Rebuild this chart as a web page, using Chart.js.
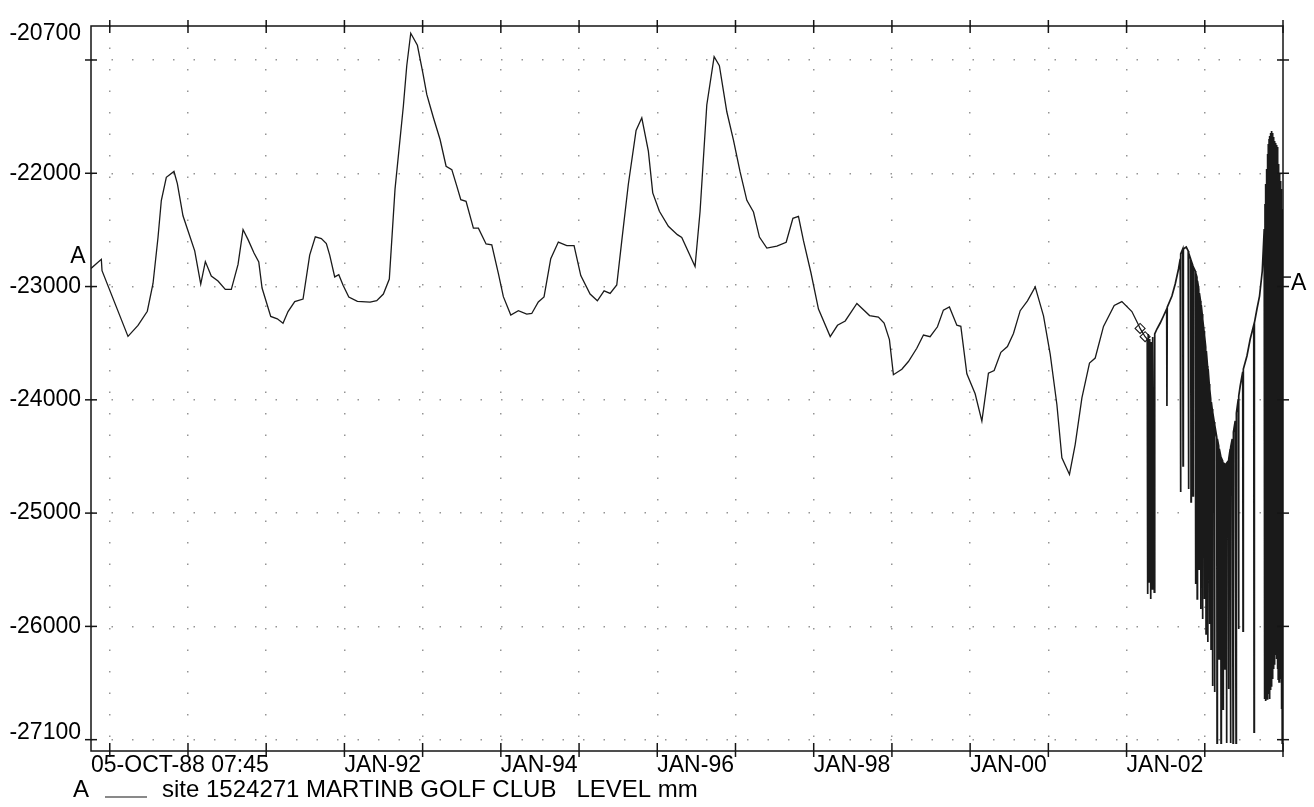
<!DOCTYPE html>
<html><head><meta charset="utf-8">
<script src="https://cdn.jsdelivr.net/npm/chart.js@4.4.1/dist/chart.umd.min.js"></script>
<style>html,body{margin:0;padding:0;background:#fff;}canvas{display:block;}</style>
</head><body>
<canvas id="c" width="1314" height="807"></canvas>
<script>
// ---- data ----
const manualDates = [1988.760,1988.892,1988.901,1989.233,1989.361,1989.480,1989.553,1989.617,1989.659,1989.723,1989.821,1989.864,1989.936,1990.000,1990.086,1990.163,1990.222,1990.298,1990.384,1990.477,1990.554,1990.640,1990.704,1990.768,1990.844,1990.905,1990.947,1991.058,1991.142,1991.215,1991.279,1991.365,1991.471,1991.556,1991.628,1991.705,1991.769,1991.812,1991.876,1991.928,1991.983,1992.056,1992.166,1992.328,1992.413,1992.498,1992.574,1992.647,1992.754,1992.797,1992.848,1992.933,1993.002,1993.053,1993.095,1993.138,1993.223,1993.300,1993.373,1993.437,1993.488,1993.555,1993.649,1993.713,1993.811,1993.884,1993.968,1994.032,1994.127,1994.224,1994.331,1994.395,1994.479,1994.552,1994.638,1994.735,1994.843,1994.936,1995.022,1995.141,1995.234,1995.320,1995.397,1995.482,1995.546,1995.630,1995.729,1995.802,1995.886,1995.942,1996.027,1996.142,1996.257,1996.313,1996.483,1996.547,1996.633,1996.727,1996.794,1996.889,1996.974,1997.059,1997.145,1997.230,1997.306,1997.401,1997.529,1997.648,1997.734,1997.805,1997.869,1997.964,1998.061,1998.211,1998.304,1998.403,1998.552,1998.714,1998.827,1998.900,1998.968,1999.019,1999.127,1999.211,1999.318,1999.403,1999.488,1999.582,1999.658,1999.735,1999.830,1999.881,1999.958,2000.064,2000.150,2000.234,2000.307,2000.393,2000.477,2000.554,2000.640,2000.733,2000.832,2000.938,2001.024,2001.109,2001.173,2001.270,2001.343,2001.429,2001.526,2001.599,2001.705,2001.842,2001.940,2002.068,2002.153,2002.173,2002.237];
const manualLevels = [-22840,-22760,-22860,-23440,-23343,-23218,-22973,-22565,-22241,-22036,-21984,-22092,-22375,-22508,-22685,-22979,-22780,-22907,-22951,-23025,-23025,-22805,-22497,-22586,-22704,-22783,-23013,-23264,-23285,-23324,-23221,-23133,-23110,-22722,-22561,-22577,-22621,-22723,-22915,-22896,-22989,-23092,-23131,-23138,-23124,-23066,-22934,-22140,-21404,-21051,-20764,-20870,-21112,-21304,-21406,-21510,-21702,-21938,-21968,-22114,-22233,-22248,-22484,-22484,-22624,-22632,-22883,-23089,-23252,-23213,-23244,-23238,-23136,-23092,-22754,-22607,-22638,-22639,-22903,-23066,-23126,-23038,-23061,-22986,-22597,-22097,-21622,-21510,-21805,-22173,-22336,-22468,-22542,-22566,-22823,-22338,-21397,-20971,-21050,-21457,-21708,-21988,-22239,-22342,-22563,-22661,-22644,-22609,-22398,-22381,-22595,-22876,-23199,-23442,-23342,-23304,-23149,-23256,-23269,-23322,-23469,-23778,-23730,-23662,-23545,-23428,-23443,-23355,-23208,-23180,-23341,-23351,-23770,-23947,-24188,-23765,-23741,-23581,-23530,-23414,-23213,-23126,-23003,-23259,-23599,-24041,-24512,-24659,-24395,-23983,-23675,-23631,-23352,-23167,-23133,-23221,-23340,-23370,-23443];
const loggerDates = [2002.264,2002.270,2002.277,2002.290,2002.296,2002.309,2002.315,2002.328,2002.334,2002.354,2002.360,2002.388,2002.430,2002.472,2002.513,2002.516,2002.520,2002.580,2002.622,2002.664,2002.686,2002.690,2002.694,2002.718,2002.722,2002.726,2002.763,2002.788,2002.792,2002.796,2002.820,2002.824,2002.828,2002.846,2002.850,2002.854,2002.878,2002.882,2002.886,2002.900,2002.903,2002.907,2002.923,2002.927,2002.931,2002.946,2002.950,2002.955,2002.967,2002.971,2002.975,2002.990,2002.994,2002.998,2003.012,2003.016,2003.020,2003.035,2003.039,2003.043,2003.057,2003.061,2003.065,2003.076,2003.080,2003.084,2003.095,2003.099,2003.103,2003.121,2003.125,2003.129,2003.153,2003.157,2003.161,2003.178,2003.182,2003.186,2003.204,2003.208,2003.212,2003.229,2003.233,2003.237,2003.255,2003.259,2003.263,2003.274,2003.278,2003.282,2003.300,2003.304,2003.308,2003.325,2003.329,2003.333,2003.351,2003.362,2003.366,2003.389,2003.400,2003.404,2003.428,2003.432,2003.436,2003.453,2003.485,2003.489,2003.493,2003.539,2003.581,2003.626,2003.630,2003.634,2003.667,2003.700,2003.735,2003.760,2003.765,2003.770,2003.776,2003.781,2003.786,2003.791,2003.796,2003.801,2003.806,2003.812,2003.817,2003.822,2003.827,2003.832,2003.837,2003.842,2003.847,2003.852,2003.857,2003.863,2003.868,2003.873,2003.878,2003.883,2003.888,2003.893,2003.898,2003.903,2003.909,2003.914,2003.919,2003.924,2003.929,2003.934,2003.939,2003.944,2003.949,2003.954,2003.960,2003.965,2003.970,2003.975,2003.980,2003.985,2003.990,2003.995,2003.997,2003.999];
const loggerLevels = [-23463,-25714,-23419,-25608,-23463,-25758,-23490,-25670,-23445,-25697,-23419,-23375,-23322,-23260,-23198,-24055,-23181,-23084,-22978,-22845,-22757,-24814,-22713,-22669,-24584,-22669,-22651,-22686,-24787,-22704,-22757,-24902,-22775,-22810,-24849,-22828,-22863,-25626,-22881,-22916,-25758,-22951,-23022,-25494,-23057,-23128,-25847,-23163,-23242,-25935,-23287,-23393,-25758,-23428,-23534,-26067,-23569,-23702,-26138,-23728,-23860,-25979,-23905,-23993,-26200,-24019,-24081,-26526,-24108,-24196,-26579,-24222,-24328,-27030,-24346,-24408,-26288,-24434,-24496,-27030,-24514,-24540,-26730,-24558,-24567,-26376,-24567,-24567,-27030,-24558,-24540,-26553,-24523,-24434,-27030,-24417,-24346,-27030,-24284,-24187,-27030,-24116,-23993,-26023,-23966,-23878,-23754,-26041,-23728,-23613,-23463,-23340,-26933,-23322,-23198,-23084,-22863,-22492,-26641,-22271,-26659,-22095,-26624,-21962,-26641,-21830,-26641,-21742,-26597,-21698,-26641,-21671,-26553,-21645,-26526,-21627,-26526,-21645,-26465,-21680,-26376,-21698,-26332,-21715,-26244,-21733,-26226,-21751,-26288,-21768,-26376,-21830,-26465,-21918,-26491,-22007,-26491,-22068,-26465,-22139,-26730,-22183,-27030,-22316,-27030,-22987];
const checkDates = [2002.173, 2002.237];
const checkLevels = [-23370, -23443];
const yTickValues = [-27100,-27000,-26000,-25000,-24000,-23000,-22000,-21000,-20700];
const yLabelValues = [-27100,-26000,-25000,-24000,-23000,-22000,-20700];
const xTickValues = [1988.76,1989,1990,1991,1992,1993,1994,1995,1996,1997,1998,1999,2000,2001,2002,2003,2004];
const xLabelValues = [1988.76,1992,1994,1996,1998,2000,2002];
const xLabelTexts = ['05-OCT-88 07:45','JAN-92','JAN-94','JAN-96','JAN-98','JAN-00','JAN-02'];
const seriesTag = 'A';
const seriesName = 'site 1524271 MARTINB GOLF CLUB   LEVEL mm';
const X_MIN = 1988.76, X_MAX = 2004, Y_MIN = -27100, Y_MAX = -20700;

// ---- build chart ----
const FONT = "'Liberation Sans', Arial, Helvetica, sans-serif";
const allLevels = manualLevels.concat(loggerLevels);
const manualPoints = manualDates.map((d, i) => ({x: d, y: manualLevels[i]}));
manualPoints.push({x: loggerDates[0], y: loggerLevels[0]}); // joins onto the logger record
const loggerPoints = loggerDates.map((d, i) => ({x: d, y: loggerLevels[i]}));
const checkPoints = checkDates.map((d, i) => ({x: d, y: checkLevels[i]}));
const DOT = 'rgba(0,0,0,0.42)';

const framePlugin = {
  id: 'frame',
  beforeDraw(chart) {
    const items = chart.scales.y.getLabelItems();
    items.forEach(it => {
      if (it._adj) return;
      it._adj = true;
      if (it.label === String(Y_MAX)) it.options.translation[1] += 8;
      if (it.label === String(Y_MIN)) it.options.translation[1] -= 18;
    });
  },
  afterDraw(chart) {
    const {ctx, chartArea: a, scales: {x, y}} = chart;
    const line = (x1, y1, x2, y2) => { ctx.beginPath(); ctx.moveTo(x1, y1); ctx.lineTo(x2, y2); ctx.stroke(); };
    ctx.save();
    ctx.strokeStyle = '#151515';
    ctx.lineWidth = 1.5;
    ctx.strokeRect(a.left, a.top, a.right - a.left, a.bottom - a.top);
    xTickValues.forEach((v, i) => {
      if (i === 0) return;
      const px = x.getPixelForValue(v);
      line(px, a.bottom - 8, px, a.bottom + 6);
      line(px, a.top - 6, px, a.top + 7);
    });
    yTickValues.forEach(v => {
      if (v === Y_MIN || v === Y_MAX) return;
      const py = y.getPixelForValue(v);
      line(a.left - 6, py, a.left + 6, py);
      line(a.right - 6, py, a.right + 6, py);
    });
    // series tags at both ends
    ctx.fillStyle = '#000';
    ctx.font = `23px ${FONT}`;
    ctx.textBaseline = 'middle';
    ctx.textAlign = 'center';
    const yFirst = y.getPixelForValue(allLevels[0]);
    const yLast = y.getPixelForValue(allLevels[allLevels.length - 1]);
    ctx.fillText(seriesTag, a.left - 13, yFirst - 12);
    line(a.right, yLast - 8, a.right + 8, yLast - 8);
    ctx.textAlign = 'left';
    ctx.fillText(seriesTag, a.right + 8, yLast - 1);
    // legend line at the bottom
    ctx.textBaseline = 'alphabetic';
    ctx.font = `24px ${FONT}`;
    ctx.fillText(seriesTag, 73, 797);
    ctx.lineWidth = 1.2;
    line(105, 797, 147, 797);
    ctx.fillText(seriesName, 162, 797);
    ctx.restore();
  }
};

new Chart(document.getElementById('c'), {
  type: 'line',
  data: {
    datasets: [
      {label: seriesName, data: manualPoints, borderColor: '#1a1a1a', borderWidth: 1.3, pointRadius: 0, tension: 0, fill: false},
      {label: seriesName + ' (logger)', data: loggerPoints, borderColor: '#1a1a1a', borderWidth: 1.7, pointRadius: 0, tension: 0, fill: false},
      {label: 'check', data: checkPoints, showLine: false, pointStyle: 'rectRot', pointRadius: 5, borderColor: '#1a1a1a', backgroundColor: '#fff', borderWidth: 1.1}
    ]
  },
  options: {
    responsive: false,
    animation: false,
    devicePixelRatio: 1,
    layout: {padding: 0},
    plugins: {legend: {display: false}, tooltip: {enabled: false}, title: {display: false}},
    scales: {
      x: {
        type: 'linear', position: 'bottom', min: X_MIN, max: X_MAX,
        afterBuildTicks: s => { s.ticks = xTickValues.map(v => ({value: v})); },
        afterFit: s => { s.height = 56; },
        ticks: {
          autoSkip: false, maxRotation: 0, minRotation: 0, align: 'start', padding: 1, color: '#000',
          font: {family: FONT, size: 23},
          callback: v => { const i = xLabelValues.indexOf(v); return i >= 0 ? xLabelTexts[i] : ''; }
        },
        grid: {
          drawTicks: false, lineWidth: 1.5,
          color: c => (c.tick && Number.isInteger(c.tick.value) && c.tick.value > X_MIN && c.tick.value < X_MAX) ? DOT : 'rgba(0,0,0,0)'
        },
        border: {display: false, dash: [1.5, 20]}
      },
      x2: {
        type: 'linear', position: 'top', min: X_MIN, max: X_MAX,
        afterFit: s => { s.height = 26; },
        ticks: {display: false}, grid: {display: false}, border: {display: false}
      },
      y: {
        type: 'linear', position: 'left', min: Y_MIN, max: Y_MAX,
        afterBuildTicks: s => { s.ticks = yTickValues.map(v => ({value: v})); },
        afterFit: s => { s.width = 91; },
        ticks: {
          autoSkip: false, padding: 10, color: '#000',
          font: {family: FONT, size: 23},
          callback: v => yLabelValues.includes(v) ? String(v) : ''
        },
        grid: {
          drawTicks: false, lineWidth: 1.5,
          color: c => (c.tick && c.tick.value > Y_MIN && c.tick.value < Y_MAX) ? DOT : 'rgba(0,0,0,0)'
        },
        border: {display: false, dash: [1.5, 19]}
      },
      y2: {
        type: 'linear', position: 'right', min: Y_MIN, max: Y_MAX,
        afterFit: s => { s.width = 31; },
        ticks: {display: false}, grid: {display: false}, border: {display: false}
      }
    }
  },
  plugins: [framePlugin]
});
</script>
</body></html>
